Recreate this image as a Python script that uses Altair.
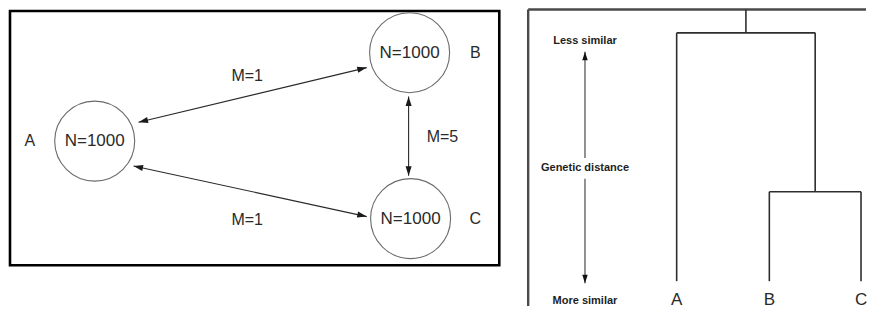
import math
import altair as alt
import pandas as pd

# ---------------- Left panel: island model ----------------
pop_names = ["A", "B", "C"]
pop_sizes = [1000, 1000, 1000]
pop_x = [94, 410, 411]
pop_y = [142, 53, 220]
pop_label_x = [29, 476, 476]

mig_values = [1, 1, 5]
mig_x1 = [138, 133, 409]
mig_y1 = [123, 167, 97]
mig_x2 = [367, 367, 409]
mig_y2 = [68, 218, 177]
mig_label_x = [247, 247, 443]
mig_label_y = [76, 221, 138]

left_box_x = [9, 500]
left_box_y = [11, 267]

# ---------------- Right panel: dendrogram ----------------
leaf_names = ["A", "B", "C"]
leaf_x = [678, 771, 863]
leaf_base_y = 283
leaf_label_y = 302
merge_bc_y = 193
merge_root_y = 33
root_top_y = 9.5

axis_texts = ["Less similar", "Genetic distance", "More similar"]
axis_text_y = [41, 169, 303]
axis_x = 586
axis_arrow_y = [52, 159, 180, 285]

right_frame_x = [529, 868]
right_frame_y = [9.5, 308]

FONT = "Liberation Sans"

xs = alt.Scale(domain=[8, 868], nice=False, zero=False)
ys = alt.Scale(domain=[8, 308], nice=False, zero=False, reverse=True)


def X(f="x"):
    return alt.X(f"{f}:Q", scale=xs, axis=None)


def Y(f="y"):
    return alt.Y(f"{f}:Q", scale=ys, axis=None)


def angle_of(x1, y1, x2, y2):
    # direction of travel from (x1,y1) to (x2,y2), screen coordinates (y down)
    return math.degrees(math.atan2(x2 - x1, -(y2 - y1))) % 360


# circles
pops = pd.DataFrame({
    "x": pop_x, "y": pop_y,
    "n": [f"N={v}" for v in pop_sizes],
    "lx": pop_label_x, "name": pop_names,
})
circles = alt.Chart(pops).mark_point(
    shape="circle", size=6400, filled=False, stroke="#6a6a6a", strokeWidth=1.1, opacity=1
).encode(x=X(), y=Y())
ntext = alt.Chart(pops).mark_text(
    font=FONT, fontSize=17, color="#2a2a2a", align="center", baseline="middle"
).encode(x=X(), y=Y(), text="n:N")
pop_labels = alt.Chart(pops).mark_text(
    font=FONT, fontSize=16, color="#2a2a2a", align="center", baseline="middle"
).encode(x=X("lx"), y=Y(), text="name:N")

# migration arrows
mig = pd.DataFrame({
    "x": mig_x1, "y": mig_y1, "x2": mig_x2, "y2": mig_y2,
    "lx": mig_label_x, "ly": mig_label_y,
    "m": [f"M={v}" for v in mig_values],
})
mig_lines = alt.Chart(mig).mark_rule(color="#2a2a2a", strokeWidth=1.1).encode(
    x=X(), y=Y(), x2="x2:Q", y2="y2:Q"
)
heads = []
for a, b, c, d in zip(mig_x1, mig_y1, mig_x2, mig_y2):
    heads.append({"x": a, "y": b, "ang": angle_of(c, d, a, b)})
    heads.append({"x": c, "y": d, "ang": angle_of(a, b, c, d)})
heads_df = pd.DataFrame(heads)
ARROW = "M0,0L-0.32,1L0.32,1Z"
mig_heads = alt.Chart(heads_df).mark_point(
    shape=ARROW, size=361, filled=True, color="#1a1a1a", opacity=1
).encode(x=X(), y=Y(), angle=alt.Angle("ang:Q", scale=None))
mig_text = alt.Chart(mig).mark_text(
    font=FONT, fontSize=16, color="#2a2a2a", align="center", baseline="middle"
).encode(x=X("lx"), y=Y("ly"), text="m:N")

left_box = alt.Chart(pd.DataFrame({
    "x": [left_box_x[0]], "x2": [left_box_x[1]],
    "y": [left_box_y[0]], "y2": [left_box_y[1]],
})).mark_rect(fillOpacity=0, stroke="#000000", strokeWidth=2.6).encode(
    x=X(), x2="x2:Q", y=Y(), y2="y2:Q"
)

# dendrogram segments built from tree structure
bc_x = (leaf_x[1] + leaf_x[2]) / 2
root_x = (leaf_x[0] + bc_x) / 2
segs = pd.DataFrame([
    {"x": leaf_x[0], "y": leaf_base_y, "x2": leaf_x[0], "y2": merge_root_y},
    {"x": leaf_x[1], "y": leaf_base_y, "x2": leaf_x[1], "y2": merge_bc_y},
    {"x": leaf_x[2], "y": leaf_base_y, "x2": leaf_x[2], "y2": merge_bc_y},
    {"x": leaf_x[1], "y": merge_bc_y, "x2": leaf_x[2], "y2": merge_bc_y},
    {"x": bc_x, "y": merge_bc_y, "x2": bc_x, "y2": merge_root_y},
    {"x": leaf_x[0], "y": merge_root_y, "x2": bc_x, "y2": merge_root_y},
    {"x": root_x, "y": merge_root_y, "x2": root_x, "y2": root_top_y},
])
tree = alt.Chart(segs).mark_rule(color="#2e2e2e", strokeWidth=1.6).encode(
    x=X(), y=Y(), x2="x2:Q", y2="y2:Q"
)
leaves = pd.DataFrame({"x": leaf_x, "y": [leaf_label_y] * 3, "name": leaf_names})
leaf_text = alt.Chart(leaves).mark_text(
    font=FONT, fontSize=17, color="#2a2a2a", align="center", baseline="middle"
).encode(x=X(), y=Y(), text="name:N")

ax_df = pd.DataFrame({"x": [axis_x] * 3, "y": axis_text_y, "t": axis_texts})
ax_text = alt.Chart(ax_df).mark_text(
    font=FONT, fontSize=11, fontWeight="bold", color="#1e1e1e", align="center", baseline="middle"
).encode(x=X(), y=Y(), text="t:N")
ax_lines = alt.Chart(pd.DataFrame({
    "x": [axis_x, axis_x], "y": [axis_arrow_y[0], axis_arrow_y[2]],
    "x2": [axis_x, axis_x], "y2": [axis_arrow_y[1], axis_arrow_y[3]],
})).mark_rule(color="#3a3a3a", strokeWidth=1.1).encode(
    x=X(), y=Y(), x2="x2:Q", y2="y2:Q"
)
ax_heads = alt.Chart(pd.DataFrame({
    "x": [axis_x, axis_x], "y": [axis_arrow_y[0], axis_arrow_y[3]], "ang": [0, 180],
})).mark_point(shape=ARROW, size=289, filled=True, color="#111111", opacity=1).encode(
    x=X(), y=Y(), angle=alt.Angle("ang:Q", scale=None)
)

frame = alt.Chart(pd.DataFrame({
    "x": [right_frame_x[0], right_frame_x[0]],
    "y": [right_frame_y[0], right_frame_y[0]],
    "x2": [right_frame_x[0], right_frame_x[1]],
    "y2": [right_frame_y[1], right_frame_y[0]],
})).mark_rule(color="#4a4a4a", strokeWidth=2.4).encode(
    x=X(), y=Y(), x2="x2:Q", y2="y2:Q"
)

chart = alt.layer(
    left_box, circles, ntext, pop_labels, mig_lines, mig_heads, mig_text,
    frame, tree, leaf_text, ax_lines, ax_heads, ax_text,
).properties(
    width=860, height=300, padding=0, background="white",
    autosize=alt.AutoSizeParams(type="fit", contains="padding"),
).configure_view(strokeWidth=0)

chart.save("out.html", embed_options={"renderer": "svg", "actions": False})
